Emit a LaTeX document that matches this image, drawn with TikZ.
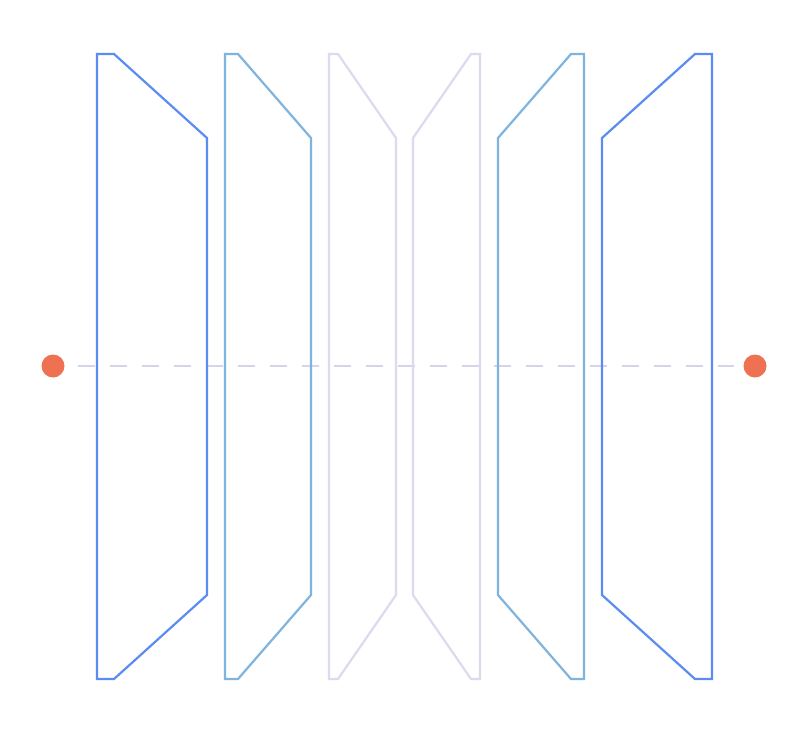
\documentclass[tikz,border=0pt]{standalone}
\begin{document}
\begin{tikzpicture}[x=1pt,y=-1pt,
  lensA/.style={draw=blueA,line width=2.2pt,line join=miter},
  lensB/.style={draw=blueB,line width=2.2pt,line join=miter},
  lensC/.style={draw=lavC,line width=2.2pt,line join=miter},
  axis/.style={draw=dashC,line width=2pt,dash pattern=on 17pt off 15pt},
  dotpt/.style={circle,fill=dotC,draw=none,minimum size=23pt,inner sep=0pt,outer sep=0pt}]
\definecolor{blueA}{HTML}{5B8CF2}
\definecolor{blueB}{HTML}{7FB4DE}
\definecolor{lavC}{HTML}{DDDAF0}
\definecolor{dashC}{HTML}{D6D3EA}
\definecolor{dotC}{HTML}{EE7152}
\useasboundingbox (0,0) rectangle (802,742);
\fill[white] (0,0) rectangle (802,742);
\node[dotpt] (L) at (53,366) {};
\node[dotpt] (R) at (755,366) {};
\draw[axis,shorten <=13.5pt,shorten >=9.5pt] (L) -- (R);
% left group
\draw[lensA] (97,54) -- (114,54) -- (207,138) -- (207,595) -- (114,679) -- (97,679) -- cycle;
\draw[lensB] (225,54) -- (238,54) -- (311,138) -- (311,595) -- (238,679) -- (225,679) -- cycle;
\draw[lensC] (329,54) -- (338,54) -- (396,138) -- (396,595) -- (338,679) -- (329,679) -- cycle;
% right group
\draw[lensC] (480,54) -- (471,54) -- (413,138) -- (413,595) -- (471,679) -- (480,679) -- cycle;
\draw[lensB] (584,54) -- (571,54) -- (498,138) -- (498,595) -- (571,679) -- (584,679) -- cycle;
\draw[lensA] (712,54) -- (695,54) -- (602,138) -- (602,595) -- (695,679) -- (712,679) -- cycle;
\end{tikzpicture}
\end{document}
